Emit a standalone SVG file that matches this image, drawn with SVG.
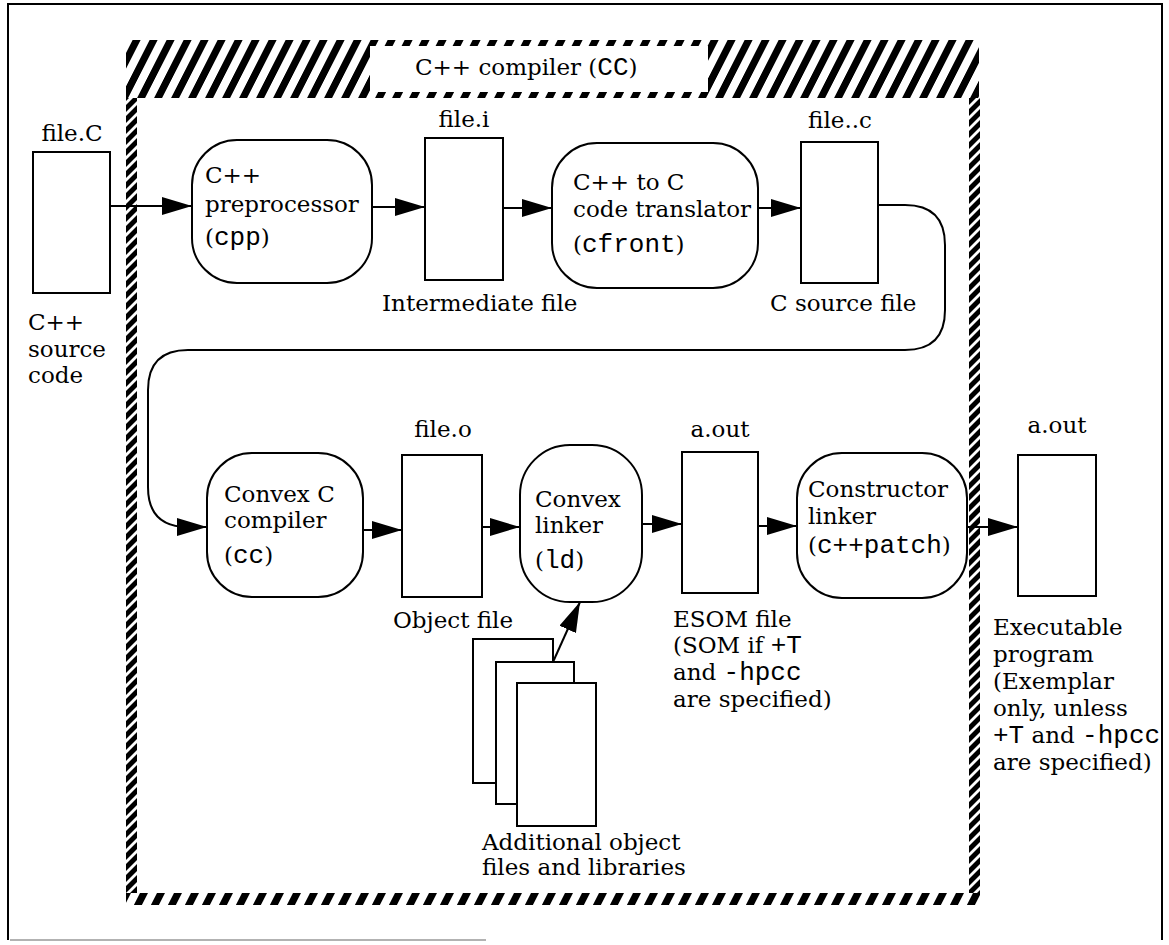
<svg xmlns="http://www.w3.org/2000/svg" width="1169" height="945" viewBox="0 0 1169 945">
<defs>
<pattern id="hatch" patternUnits="userSpaceOnUse" width="17" height="17" patternTransform="skewX(-27)"><rect x="0" y="0" width="8" height="17" fill="#000"/></pattern>
<pattern id="hatchV" patternUnits="userSpaceOnUse" width="11" height="11" patternTransform="skewY(-45)"><rect x="0" y="0" width="11" height="7" fill="#000"/></pattern>
<marker id="ah" markerUnits="userSpaceOnUse" markerWidth="30" markerHeight="18" refX="30" refY="9" orient="auto"><path d="M0,0 L30,9 L0,18 z" fill="#000"/></marker>
</defs>
<style>
.box{fill:#fff;stroke:#000;stroke-width:2}
.t{font-family:"DejaVu Serif","Liberation Serif",serif;font-size:23px;fill:#000}
.m{font-family:"Liberation Mono","DejaVu Sans Mono",monospace;font-size:26px}
.c{fill:none;stroke:#000;stroke-width:2}
.a{fill:none;stroke:#000;stroke-width:2;marker-end:url(#ah)}
</style>
<rect x="0" y="0" width="1169" height="945" fill="#fff"/>
<g id="page-frame">
<path d="M8,940 L8,4 L1162,4 L1162,940" class="c"/>
<path d="M10,940 L486,940" fill="none" stroke="#999" stroke-width="1.5"/>
</g>
<g id="compiler-frame">
<rect x="126" y="40" width="853" height="58" fill="url(#hatch)"/>
<rect x="370" y="46" width="338" height="46" fill="#fff"/>
<rect x="126" y="98" width="11" height="795" fill="url(#hatchV)"/>
<rect x="969" y="98" width="11" height="795" fill="url(#hatchV)"/>
<rect x="126" y="893" width="854" height="12" fill="url(#hatch)"/>
<text class="t" x="415" y="75">C++ compiler (<tspan class="m">CC</tspan>)</text>
</g>
<g id="connectors">
<path class="a" d="M110,206 L192,206"/>
<path class="a" d="M372,207 L425,207"/>
<path class="a" d="M503,208 L552,208"/>
<path class="a" d="M758,208 L801,208"/>
<path class="a" d="M878,205 L905,205 Q945,205 945,245 L945,310 Q945,350 905,350 L188,350 Q148,350 148,390 L148,487 Q148,527 188,527 L207,527"/>
<path class="a" d="M363,530 L402,530"/>
<path class="a" d="M482,527 L520,527"/>
<path class="a" d="M642,524 L682,524"/>
<path class="a" d="M758,526 L797,526"/>
<path class="a" d="M967,527 L1018,527"/>
<path class="a" d="M553,662 L580,602"/>
</g>
<g id="fileC">
<rect class="box" x="33" y="152" width="77" height="141"/>
<text class="t" x="72" y="141" text-anchor="middle">file.C</text>
<text class="t" x="28" y="330">C++</text>
<text class="t" x="28" y="357">source</text>
<text class="t" x="28" y="383">code</text>
</g>
<g id="cpp">
<rect class="box" x="192" y="140" width="180" height="143" rx="45" ry="45"/>
<text class="t" x="205" y="183">C++</text>
<text class="t" x="205" y="212">preprocessor</text>
<text class="t" x="205" y="245">(<tspan class="m">cpp</tspan>)</text>
</g>
<g id="filei">
<rect class="box" x="425" y="138" width="78" height="142"/>
<text class="t" x="464" y="127" text-anchor="middle">file.i</text>
<text class="t" x="382" y="311">Intermediate file</text>
</g>
<g id="cfront">
<rect class="box" x="552" y="143" width="206" height="145" rx="45" ry="45"/>
<text class="t" x="573" y="190">C++ to C</text>
<text class="t" x="573" y="217">code translator</text>
<text class="t" x="573" y="252">(<tspan class="m">cfront</tspan>)</text>
</g>
<g id="filec">
<rect class="box" x="801" y="142" width="77" height="141"/>
<text class="t" x="840" y="128" text-anchor="middle">file..c</text>
<text class="t" x="770" y="311">C source file</text>
</g>
<g id="cc">
<rect class="box" x="207" y="453" width="156" height="144" rx="45" ry="45"/>
<text class="t" x="224" y="502">Convex C</text>
<text class="t" x="224" y="528">compiler</text>
<text class="t" x="224" y="563">(<tspan class="m">cc</tspan>)</text>
</g>
<g id="fileo">
<rect class="box" x="402" y="455" width="80" height="142"/>
<text class="t" x="443" y="437" text-anchor="middle">file.o</text>
<text class="t" x="393" y="628">Object file</text>
</g>
<g id="ld">
<rect class="box" x="520" y="445" width="122" height="157" rx="50" ry="50"/>
<text class="t" x="535" y="507">Convex</text>
<text class="t" x="535" y="533">linker</text>
<text class="t" x="535" y="568">(<tspan class="m">ld</tspan>)</text>
</g>
<g id="aout1">
<rect class="box" x="682" y="452" width="76" height="141"/>
<text class="t" x="720" y="437" text-anchor="middle">a.out</text>
<text class="t" x="673" y="627">ESOM file</text>
<text class="t" x="673" y="653">(SOM if <tspan class="m">+T</tspan></text>
<text class="t" x="673" y="680">and <tspan class="m">-hpcc</tspan></text>
<text class="t" x="673" y="707">are specified)</text>
</g>
<g id="patch">
<rect class="box" x="797" y="453" width="170" height="145" rx="45" ry="45"/>
<text class="t" x="808" y="497">Constructor</text>
<text class="t" x="808" y="524">linker</text>
<text class="t" x="808" y="553">(<tspan class="m">c++patch</tspan>)</text>
</g>
<g id="aout2">
<rect class="box" x="1018" y="455" width="78" height="141"/>
<text class="t" x="1057" y="433" text-anchor="middle">a.out</text>
<text class="t" x="993" y="635">Executable</text>
<text class="t" x="993" y="662">program</text>
<text class="t" x="993" y="689">(Exemplar</text>
<text class="t" x="993" y="716">only, unless</text>
<text class="t" x="993" y="743"><tspan class="m">+T</tspan> and <tspan class="m">-hpcc</tspan></text>
<text class="t" x="993" y="770">are specified)</text>
</g>
<g id="libs">
<rect class="box" x="473" y="639" width="80" height="144"/>
<rect class="box" x="496" y="662" width="78" height="142"/>
<rect class="box" x="517" y="683" width="79" height="143"/>
<text class="t" x="482" y="850">Additional object</text>
<text class="t" x="482" y="875">files and libraries</text>
</g>
</svg>
